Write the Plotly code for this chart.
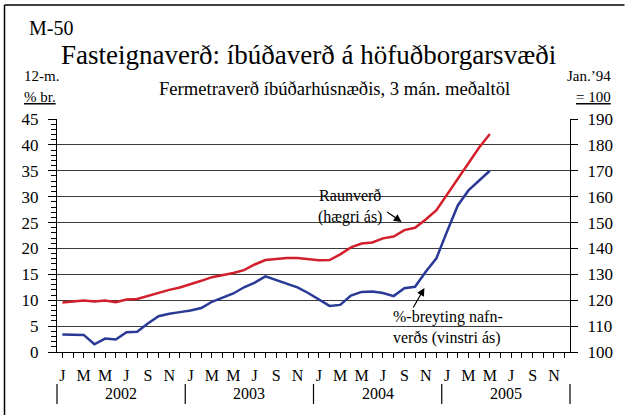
import plotly.graph_objects as go

# ---- data ----
years = ["2002", "2003", "2004", "2005"]
month_letters = ["J", "", "M", "", "M", "", "J", "", "S", "", "N", ""]
# 12-month % change of nominal price (left axis), Jan 2002 - May 2005
nominal_pct = [3.4, 3.4, 3.3, 1.5, 2.6, 2.4, 3.8, 3.9, 5.5, 6.9, 7.4, 7.7,
               8.0, 8.5, 9.7, 10.5, 11.3, 12.5, 13.4, 14.6, 13.9, 13.2, 12.5, 11.4,
               10.1, 8.9, 9.1, 10.9, 11.6, 11.7, 11.4, 10.8, 12.3, 12.6, 15.5, 18.1,
               23.3, 28.3, 31.2, 33.1, 35.0]
# real price index, Jan '94 = 100 (right axis)
real_index = [119.1, 119.6, 119.9, 119.5, 119.9, 119.2, 120.3, 120.5, 121.7, 122.9, 124.0, 124.9,
              126.1, 127.5, 128.9, 129.6, 130.5, 131.6, 133.8, 135.5, 135.8, 136.3, 136.3, 135.9,
              135.4, 135.5, 137.7, 140.4, 141.9, 142.3, 143.9, 144.6, 147.1, 148.0, 151.2, 154.8,
              160.8, 167.1, 173.2, 179.0, 184.2]

n_months = 12 * len(years)
tick_pos = [i + 0.5 for i in range(n_months)]
tick_txt = month_letters * len(years)
x_blue = [i + 0.5 for i in range(len(nominal_pct))]
x_red = [i + 0.5 for i in range(len(real_index))]

FONT = "Liberation Serif"

# plot area in pixels
L, R, T, B = 57, 575, 119, 352
W, H = 625, 415
pw, ph = R - L, B - T


def px(x):
    return (x - L) / pw


def py(y):
    return (B - y) / ph


fig = go.Figure()
fig.add_trace(go.Scatter(x=x_blue, y=nominal_pct, mode="lines",
                         line=dict(color="#2a3896", width=2.5), yaxis="y", showlegend=False,
                         hoverinfo="skip"))
fig.add_trace(go.Scatter(x=x_red, y=real_index, mode="lines",
                         line=dict(color="#d21f2c", width=2.5), yaxis="y2", showlegend=False,
                         hoverinfo="skip"))

shapes = []
# white boxes interrupting gridlines behind labels
shapes.append(dict(type="rect", xref="paper", yref="paper", layer="between",
                   x0=px(298), x1=px(413), y0=py(229), y1=py(172),
                   fillcolor="white", line=dict(width=0)))
shapes.append(dict(type="rect", xref="paper", yref="paper", layer="between",
                   x0=px(387), x1=px(547), y0=py(350), y1=py(289),
                   fillcolor="white", line=dict(width=0)))
# year separators
for k in range(len(years) + 1):
    xf = k / len(years)
    shapes.append(dict(type="line", xref="paper", yref="paper",
                       x0=xf, x1=xf, y0=py(384), y1=py(404),
                       line=dict(color="black", width=1.2)))
# frame (left and top)
shapes.append(dict(type="line", xref="paper", yref="paper",
                   x0=px(4), x1=px(4), y0=py(5), y1=py(420),
                   line=dict(color="black", width=1.5)))
shapes.append(dict(type="line", xref="paper", yref="paper",
                   x0=px(4), x1=px(630), y0=py(5), y1=py(5),
                   line=dict(color="black", width=1.5)))

ann = []


def text(s, x, y, size, xanchor="center", yanchor="middle", align="center"):
    ann.append(dict(text=s, x=px(x), y=py(y), xref="paper", yref="paper",
                    xanchor=xanchor, yanchor=yanchor, align=align, showarrow=False,
                    font=dict(family=FONT, size=size, color="black")))


text("M-50", 27, 28, 20, xanchor="left")
text("Fasteignaverð: íbúðaverð á höfuðborgarsvæði", 311, 55, 27)
text("Fermetraverð íbúðarhúsnæðis, 3 mán. meðaltöl", 337, 88, 18.6)
text("12-m.", 22, 76, 15, xanchor="left")
text("<u>% br.</u>", 22, 97, 15, xanchor="left")
text("Jan.’94", 618, 76, 15, xanchor="right")
text("<u>= 100</u>", 618, 97, 15, xanchor="right")
text("Raunverð<br>(hægri ás)", 353, 206, 16)
text("%-breyting nafn-<br>verðs (vinstri ás)", 394, 327, 16, xanchor="left", align="left")
for k, yr in enumerate(years):
    ann.append(dict(text=yr, x=(k + 0.5) / len(years), y=py(393), xref="paper", yref="paper",
                    xanchor="center", yanchor="middle",
                    showarrow=False, font=dict(family=FONT, size=16, color="black")))

# arrows
for (tx, ty, hx, hy) in [(389, 211, 405, 222), (416, 309, 428, 288)]:
    ann.append(dict(text="", x=px(hx), y=py(hy), xref="paper", yref="paper",
                    ax=tx - hx, ay=ty - hy, showarrow=True, arrowhead=2, arrowsize=1.3,
                    arrowwidth=1.2, arrowcolor="black"))

fig.update_layout(
    width=W, height=H, autosize=False,
    margin=dict(l=L, r=W - R, t=T, b=H - B, pad=0),
    paper_bgcolor="white", plot_bgcolor="white",
    font=dict(family=FONT, color="black"),
    shapes=shapes, annotations=ann,
    xaxis=dict(range=[0, n_months], tickmode="array", tickvals=tick_pos, ticktext=tick_txt,
               ticks="outside", ticklen=5, tickcolor="black", tickwidth=1,
               showgrid=False, zeroline=False, showline=True, linecolor="black", linewidth=1,
               tickfont=dict(family=FONT, size=16), tickangle=0, fixedrange=True,
               ticklabelstandoff=4),
    yaxis=dict(range=[0, 45], tickmode="linear", tick0=0, dtick=5,
               ticks="outside", ticklen=8, tickcolor="black", tickwidth=1,
               minor=dict(dtick=1, tick0=0, ticks="outside", ticklen=5, tickcolor="black", showgrid=False),
               showgrid=True, gridcolor="#3a3a3a", gridwidth=1,
               zeroline=False, showline=True, linecolor="black", linewidth=1,
               tickfont=dict(family=FONT, size=17), ticklabelstandoff=6, fixedrange=True),
    yaxis2=dict(range=[100, 190], tickmode="linear", tick0=100, dtick=10, overlaying="y", side="right",
                ticks="outside", ticklen=7, tickcolor="black", tickwidth=1,
                showgrid=False, zeroline=False, showline=True, linecolor="black", linewidth=1,
                tickfont=dict(family=FONT, size=17), ticklabelstandoff=6, fixedrange=True),
)

fig.write_html("out.html", config={"displayModeBar": False},
               post_script="document.body.style.margin='0';document.body.style.overflow='hidden';")
